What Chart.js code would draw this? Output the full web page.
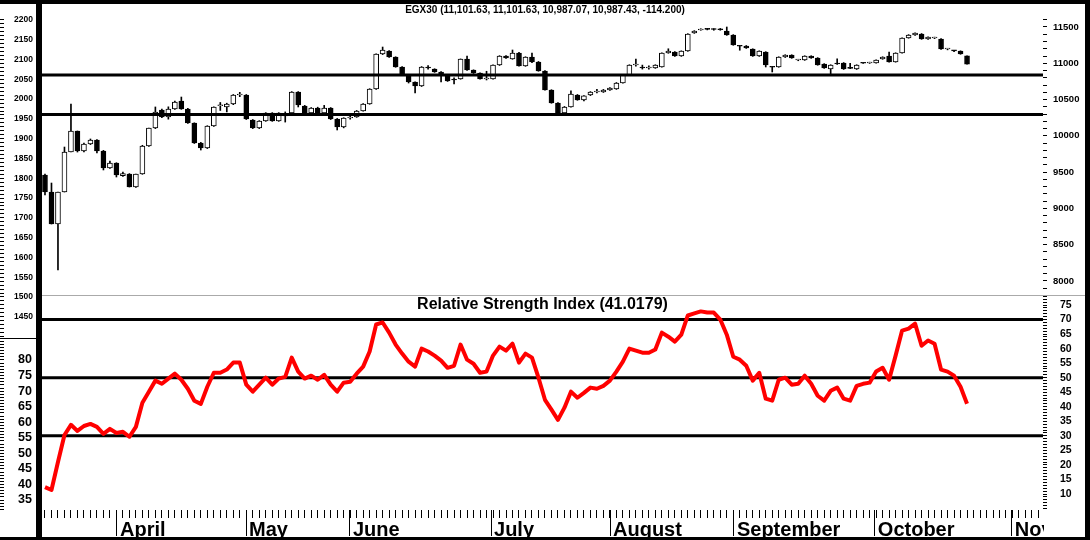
<!DOCTYPE html>
<html>
<head>
<meta charset="utf-8">
<script src="https://cdn.jsdelivr.net/npm/chart.js@4.4.1/dist/chart.umd.min.js"></script>
<style>
  html, body { margin: 0; padding: 0; background: #fff; }
  #wrap { position: relative; width: 1090px; height: 540px; overflow: hidden; }
  canvas { position: absolute; left: 0; }
  #c1 { top: 0; }
  #c2 { top: 295px; }
  .blk { position: absolute; background: #000; z-index: 5; }
</style>
</head>
<body>
<div id="wrap">
  <canvas id="c1" width="1090" height="340"></canvas>
  <canvas id="c2" width="1090" height="245"></canvas>
  <div style="position:absolute;left:42px;top:295px;width:1043px;height:1px;background:#aaa;z-index:3"></div>
  <div style="position:absolute;left:1044px;top:512px;width:41px;height:25px;background:#fff;z-index:4"></div>
  <div class="blk" style="left:0;top:0;width:1090px;height:4px"></div>
  <div class="blk" style="left:36px;top:0;width:6px;height:540px"></div>
  <div class="blk" style="left:1085px;top:0;width:5px;height:540px"></div>
  <div class="blk" style="left:0;top:537px;width:1090px;height:3px"></div>
  <div class="blk" style="left:0;top:338px;width:36px;height:1px"></div>
</div>
<script>
// EGX30 daily candles (trading-day index 0..142)
var opens = [9461, 9226, 8785, 9226, 9777, 10067, 9791, 9888, 9943, 9791,
  9557, 9626, 9450, 9474, 9295, 9474, 9860, 10108, 10356, 10260,
  10370, 10480, 10370, 10177, 9902, 9833, 10136, 10415, 10398, 10439,
  10563, 10563, 10218, 10108, 10205, 10315, 10205, 10274, 10315, 10604,
  10411, 10315, 10384, 10315, 10384, 10232, 10122, 10246, 10260, 10343,
  10439, 10646, 11128, 11169, 11087, 10949, 10839, 10742, 10687, 10949,
  10921, 10880, 10839, 10784, 10784, 11059, 10907, 10866, 10784, 10784,
  10976, 11100, 11059, 11142, 10963, 11087, 11018, 10894, 10632, 10453,
  10315, 10398, 10563, 10494, 10563, 10604, 10604, 10632, 10646, 10728,
  10839, 10976, 10949, 10935, 10935, 10949, 11142, 11155, 11100, 11169,
  11417, 11459, 11472, 11468, 11466, 11445, 11390, 11238, 11238, 11197,
  11100, 11155, 10949, 10949, 11087, 11114, 11045, 11045, 11100, 11073,
  10990, 10921, 11004, 11004, 10935, 10921, 11004, 11004, 11004, 11059,
  11100, 11018, 11142, 11348, 11390, 11404, 11335, 11348, 11335, 11197,
  11172, 11169, 11101.63];
var highs = [9475, 9350, 9226, 9846, 10439, 10067, 9900, 9957, 9950, 9800,
  9653, 9630, 9500, 9480, 9474, 9870, 10108, 10398, 10370, 10400,
  10480, 10535, 10380, 10180, 9910, 10140, 10400, 10460, 10450, 10570,
  10600, 10570, 10225, 10210, 10320, 10320, 10320, 10330, 10610, 10610,
  10420, 10390, 10395, 10420, 10390, 10240, 10250, 10290, 10350, 10445,
  10650, 11130, 11224, 11175, 11090, 10955, 10845, 10745, 10955, 10970,
  10925, 10885, 10845, 10800, 11060, 11100, 10910, 10870, 10890, 10980,
  11105, 11105, 11183, 11150, 11090, 11140, 11025, 10900, 10636, 10458,
  10405, 10620, 10570, 10555, 10610, 10640, 10640, 10665, 10735, 10845,
  10980, 11059, 10975, 10965, 10980, 11145, 11200, 11160, 11172, 11408,
  11450, 11476, 11480, 11478, 11480, 11500, 11395, 11245, 11245, 11200,
  11172, 11160, 10955, 11090, 11118, 11118, 11055, 11104, 11104, 11078,
  10995, 10980, 11060, 11010, 11000, 10980, 11010, 11015, 11048, 11090,
  11155, 11145, 11350, 11395, 11420, 11410, 11365, 11360, 11340, 11205,
  11180, 11172, 11101.63];
var lows = [9185, 8785, 8151, 9226, 9777, 9777, 9780, 9880, 9764, 9530,
  9550, 9433, 9440, 9295, 9290, 9470, 9855, 10100, 10250, 10230,
  10365, 10365, 10170, 9895, 9805, 9825, 10130, 10350, 10330, 10430,
  10540, 10225, 10100, 10100, 10200, 10200, 10200, 10190, 10310, 10398,
  10310, 10300, 10300, 10300, 10225, 10081, 10110, 10230, 10255, 10340,
  10435, 10640, 11120, 11080, 10945, 10835, 10728, 10590, 10680, 10920,
  10875, 10742, 10750, 10715, 10780, 10900, 10860, 10780, 10770, 10780,
  10970, 11068, 11055, 10960, 10958, 11010, 10890, 10628, 10449, 10287,
  10305, 10395, 10490, 10480, 10555, 10590, 10598, 10625, 10640, 10725,
  10835, 10960, 10920, 10920, 10930, 10945, 11138, 11095, 11095, 11165,
  11412, 11455, 11460, 11455, 11455, 11385, 11248, 11180, 11205, 11095,
  11095, 10949, 10880, 10945, 11080, 11068, 11035, 11040, 11068, 10973,
  10930, 10852, 10985, 10915, 10925, 10915, 10998, 10998, 11000, 11055,
  11015, 11015, 11138, 11345, 11385, 11330, 11330, 11340, 11192, 11185,
  11160, 11124, 10987.07];
var closes = [9226, 8785, 9226, 9777, 10067, 9791, 9888, 9943, 9791, 9557,
  9626, 9461, 9480, 9295, 9474, 9860, 10108, 10329, 10260, 10370,
  10467, 10370, 10177, 9902, 9833, 10136, 10398, 10425, 10439, 10563,
  10570, 10232, 10108, 10205, 10315, 10205, 10315, 10287, 10604, 10425,
  10315, 10384, 10315, 10384, 10232, 10122, 10246, 10260, 10343, 10439,
  10646, 11128, 11183, 11087, 10949, 10839, 10742, 10687, 10949, 10935,
  10880, 10852, 10756, 10770, 11059, 10907, 10866, 10784, 10784, 10976,
  11100, 11073, 11142, 10963, 11087, 11018, 10894, 10632, 10453, 10315,
  10398, 10577, 10494, 10550, 10604, 10618, 10632, 10660, 10728, 10839,
  10976, 10976, 10935, 10949, 10976, 11142, 11169, 11100, 11169, 11404,
  11445, 11472, 11468, 11466, 11462, 11390, 11252, 11235, 11211, 11100,
  11169, 10976, 10945, 11087, 11114, 11073, 11045, 11100, 11073, 10976,
  10935, 10976, 10990, 10921, 10930, 10976, 11000, 11008, 11045, 11087,
  11018, 11142, 11348, 11390, 11417, 11335, 11362, 11352, 11197, 11197,
  11170, 11128, 10987.43];

// Relative Strength Index, one value per candle
var rsiValues = [12.4, 11.4, 21, 30.3, 33.8, 31.7, 33.4, 34.1, 33.1, 30.7,
  32.4, 31, 31.4, 29.7, 33.1, 41.4, 45.2, 49, 47.9, 49.7,
  51.4, 49.3, 46.2, 42.1, 41, 46.9, 51.7, 51.7, 52.8, 55.2,
  55.2, 47.6, 45.2, 47.6, 50, 47.6, 49.7, 50.3, 56.9, 52.1,
  49.7, 50.7, 49.3, 51, 47.6, 45.2, 48.3, 48.6, 51.4, 53.8,
  59, 68.3, 69, 65.5, 61.4, 58.3, 55.5, 53.8, 60, 59,
  57.6, 55.9, 53.4, 54.1, 61.4, 56.2, 54.8, 51.7, 52.1, 57.6,
  60.7, 59.3, 61.7, 55.2, 58.3, 56.9, 50, 42.4, 39, 35.5,
  39.7, 45.2, 43.1, 44.8, 46.6, 46.2, 47.2, 49, 52.1, 55.5,
  60, 59.3, 58.6, 58.6, 59.7, 65.5, 64.1, 62.4, 64.8, 71.4,
  72.1, 72.8, 72.4, 72.4, 70, 64.8, 57.2, 56.2, 54.1, 49,
  51.7, 42.8, 42.1, 49.3, 50, 47.6, 47.9, 50.7, 47.9, 43.8,
  42.1, 45.5, 46.6, 42.8, 42.1, 47.2, 47.9, 48.3, 52.1, 53.4,
  49.3, 57.6, 66.2, 66.9, 68.6, 61, 62.8, 61.7, 52.8, 52.1,
  50.7, 46.9, 41.02];

var supportLevels = [10838, 10295];
var rsiLevels = [70, 50, 30];

var monthLabels = ['April', 'May', 'June', 'July', 'August', 'September', 'October', 'November'];
var monthStarts = [11.09, 30.96, 46.97, 68.69, 87.02, 106.1, 127.8, 148.9];

var priceTickLabels = [8000, 8500, 9000, 9500, 10000, 10500, 11000, 11500];
var oldTickLabels = [1450, 1500, 1550, 1600, 1650, 1700, 1750, 1800, 1850, 1900, 1950, 2000, 2050, 2100, 2150, 2200];
var rsiRightLabels = [10, 15, 20, 25, 30, 35, 40, 45, 50, 55, 60, 65, 70, 75];
var rsiLeftLabels = [35, 40, 45, 50, 55, 60, 65, 70, 75, 80];

var chartTitle = 'EGX30 (11,101.63, 11,101.63, 10,987.07, 10,987.43, -114.200)';
var rsiTitle = 'Relative Strength Index (41.0179)';

Chart.defaults.font.family = '"Liberation Sans", Arial, Helvetica, sans-serif';
Chart.defaults.color = '#000';

var xMin = -0.46, xMax = 153.7;

function range(a, b, step) {
  var out = [];
  for (var v = a; v <= b + 1e-9; v += step) out.push(Math.round(v * 100) / 100);
  return out;
}
function noPad(s) { s.paddingTop = 0; s.paddingBottom = 0; s.paddingLeft = 0; s.paddingRight = 0; }
function setTicks(list) { return function (s) { s.ticks = list.map(function (v) { return { value: v }; }); }; }
function plain(v) { return String(v); }

var levelLines = {
  id: 'levelLines',
  beforeDatasetsDraw: function (chart, args, opts) { if (opts.behind) drawLevels(chart, opts); },
  afterDatasetsDraw: function (chart, args, opts) { if (!opts.behind) drawLevels(chart, opts); }
};
function drawLevels(chart, opts) {
  var ctx = chart.ctx, area = chart.chartArea, sc = chart.scales[opts.axis];
  ctx.save();
  ctx.strokeStyle = '#000';
  ctx.lineWidth = 3;
  opts.levels.forEach(function (v) {
    var y = sc.getPixelForValue(v);
    ctx.beginPath();
    ctx.moveTo(area.left, y);
    ctx.lineTo(area.right, y);
    ctx.stroke();
  });
  ctx.restore();
}

var panelTitle = {
  id: 'panelTitle',
  afterDraw: function (chart, args, opts) {
    var ctx = chart.ctx, area = chart.chartArea;
    ctx.save();
    ctx.font = 'bold 16px "Liberation Sans", Arial, sans-serif';
    ctx.fillStyle = '#000';
    ctx.textAlign = 'center';
    ctx.textBaseline = 'middle';
    ctx.fillText(opts.text, (area.left + area.right) / 2, area.top + 10);
    ctx.restore();
  }
};

// top panel: candles
new Chart(document.getElementById('c1'), {
  type: 'bar',
  data: {
    datasets: [{
      label: 'wick',
      data: lows.map(function (l, i) { return { x: i, y: [l, highs[i]] }; }),
      backgroundColor: '#000',
      barThickness: 1,
      grouped: false,
      order: 2,
      xAxisID: 'x',
      yAxisID: 'y'
    }, {
      label: 'body',
      data: opens.map(function (o, i) { return { x: i, y: [o, closes[i]] }; }),
      backgroundColor: opens.map(function (o, i) { return closes[i] >= o ? '#fff' : '#000'; }),
      borderColor: '#000',
      borderWidth: 1,
      borderSkipped: false,
      barThickness: 5,
      minBarLength: 1,
      grouped: false,
      order: 1,
      xAxisID: 'x',
      yAxisID: 'y'
    }]
  },
  options: {
    responsive: false,
    animation: false,
    devicePixelRatio: 1,
    layout: { padding: 0 },
    plugins: {
      legend: { display: false },
      tooltip: { enabled: false },
      title: { display: true, text: chartTitle, color: '#000', font: { size: 10, weight: 'bold' }, padding: { top: 4, bottom: 2 } },
      levelLines: { axis: 'y', levels: supportLevels, behind: false }
    },
    scales: {
      x: { type: 'linear', min: xMin, max: xMax, display: false, offset: false },
      y: {
        position: 'right', min: 7187, max: 11624, beginAtZero: false,
        afterFit: function (s) { s.width = 47; noPad(s); },
        afterBuildTicks: setTicks(range(7800, 11600, 100)),
        grid: { drawOnChartArea: false, tickLength: 4, tickColor: '#000' },
        border: { display: false },
        ticks: {
          autoSkip: false, padding: 6, font: { size: 9.5, weight: 'bold' },
          callback: function (v) { return priceTickLabels.indexOf(v) >= 0 ? String(v) : ''; }
        }
      },
      yL: {
        position: 'left', weight: 0, min: 1391.3, max: 2205.05,
        afterFit: function (s) { s.width = 38; noPad(s); },
        afterBuildTicks: setTicks(oldTickLabels),
        grid: { display: false, drawTicks: false },
        border: { display: false },
        ticks: { autoSkip: false, padding: 9, font: { size: 8.5, weight: 'bold' }, callback: plain }
      },
      yT: {
        position: 'left', weight: 1, min: 1391.3, max: 2205.05,
        afterFit: function (s) { s.width = 4; noPad(s); },
        afterBuildTicks: setTicks(range(1400, 2200, 10)),
        grid: { drawOnChartArea: false, tickLength: 4, tickColor: '#000' },
        border: { display: false },
        ticks: { autoSkip: false, padding: 0, callback: function () { return ''; } }
      }
    }
  },
  plugins: [levelLines]
});

// bottom panel: RSI
new Chart(document.getElementById('c2'), {
  type: 'line',
  data: {
    datasets: [{
      label: 'RSI',
      data: rsiValues.map(function (v, i) { return { x: i, y: v }; }),
      borderColor: '#ff0000',
      borderWidth: 4,
      pointRadius: 0,
      tension: 0,
      borderJoinStyle: 'round',
      xAxisID: 'xDay',
      yAxisID: 'yR'
    }]
  },
  options: {
    responsive: false,
    animation: false,
    devicePixelRatio: 1,
    layout: { padding: 0 },
    plugins: {
      legend: { display: false },
      tooltip: { enabled: false },
      levelLines: { axis: 'yR', levels: rsiLevels, behind: true },
      panelTitle: { text: rsiTitle }
    },
    scales: {
      xDay: {
        type: 'linear', position: 'bottom', weight: 0, min: xMin, max: xMax, offset: false,
        afterFit: function (s) { s.height = 8; noPad(s); },
        afterBuildTicks: setTicks(range(0, 153, 1).concat(monthStarts).sort(function (a, b) { return a - b; })),
        grid: { drawOnChartArea: false, tickLength: 8, tickColor: '#000', offset: false },
        border: { display: false },
        ticks: { autoSkip: false, maxRotation: 0, padding: 0, callback: function () { return ''; } }
      },
      xMonth: {
        type: 'linear', position: 'bottom', weight: 1, min: xMin, max: xMax, offset: false,
        afterFit: function (s) { s.height = 22; noPad(s); },
        afterBuildTicks: setTicks(monthStarts),
        grid: { drawOnChartArea: false, tickLength: 18, tickColor: '#000', offset: false },
        border: { display: false },
        ticks: {
          autoSkip: false, maxRotation: 0, minRotation: 0, align: 'start', labelOffset: 3, padding: -18,
          font: { size: 20, weight: 'bold' },
          callback: function (v, i) { return monthLabels[i]; }
        }
      },
      yR: {
        position: 'right', min: 4.51, max: 78.44,
        afterFit: function (s) { s.width = 47; noPad(s); },
        afterBuildTicks: setTicks(range(5, 78, 1)),
        grid: { drawOnChartArea: false, tickLength: 4, tickColor: '#000' },
        border: { display: false },
        ticks: {
          autoSkip: false, padding: 13, font: { size: 10.5, weight: 'bold' },
          callback: function (v) { return rsiRightLabels.indexOf(v) >= 0 ? String(v) : ''; }
        }
      },
      yL2: {
        position: 'left', weight: 0, min: 31.79, max: 100.89,
        afterFit: function (s) { s.width = 38; noPad(s); },
        afterBuildTicks: setTicks(rsiLeftLabels),
        grid: { display: false, drawTicks: false },
        border: { display: false },
        ticks: { autoSkip: false, padding: 10, font: { size: 12.5, weight: 'bold' }, callback: plain }
      },
      yT2: {
        position: 'left', weight: 1, min: 31.79, max: 100.89,
        afterFit: function (s) { s.width = 4; noPad(s); },
        afterBuildTicks: setTicks(range(32, 87, 1)),
        grid: { drawOnChartArea: false, tickLength: 4, tickColor: '#000' },
        border: { display: false },
        ticks: { autoSkip: false, padding: 0, callback: function () { return ''; } }
      }
    }
  },
  plugins: [levelLines, panelTitle]
});
</script>
</body>
</html>
